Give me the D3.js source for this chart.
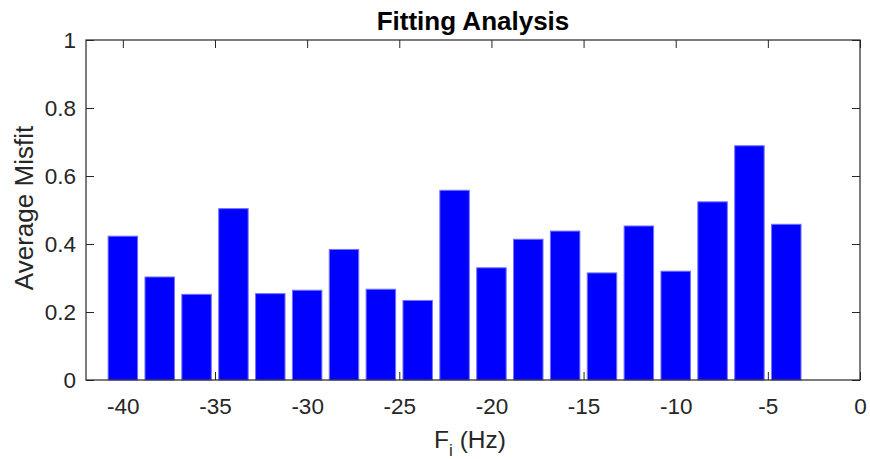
<!DOCTYPE html>
<html>
<head>
<meta charset="utf-8">
<script src="https://cdn.jsdelivr.net/npm/d3@7"></script>
<style>
  html, body { margin: 0; padding: 0; background: #fff; }
  svg { display: block; font-family: "Liberation Sans", Arial, Helvetica, sans-serif; }
</style>
</head>
<body>
<svg id="chart" width="870" height="459"></svg>
<script>
// Frequency bins (Hz) and the average misfit of the fit in each bin
const frequencies = [-40, -38, -36, -34, -32, -30, -28, -26, -24, -22, -20, -18, -16, -14, -12, -10, -8, -6, -4];
const misfits = [0.423, 0.303, 0.252, 0.504, 0.254, 0.264, 0.384, 0.267, 0.234, 0.558, 0.330, 0.414, 0.438, 0.315, 0.453, 0.320, 0.524, 0.689, 0.458];
const xTicks = [-40, -35, -30, -25, -20, -15, -10, -5, 0];
const yTicks = [0, 0.2, 0.4, 0.6, 0.8, 1];

const svg = d3.select("#chart");
const plot = { left: 86, right: 860, top: 40, bottom: 380 };
const axisColor = "#262626";
const tickLen = 8;

const x = d3.scaleLinear().domain([-42, 0]).range([plot.left, plot.right]);
const y = d3.scaleLinear().domain([0, 1]).range([plot.bottom, plot.top]);

// plain ASCII hyphen for negatives
const fmt = d => String(d);

// inward ticks on all four sides (box on)
const g = svg.append("g");
function styleAxis(sel) {
  sel.selectAll("path.domain").remove();
  sel.selectAll("line").attr("stroke", axisColor).attr("stroke-width", 1);
  sel.selectAll("text").attr("fill", axisColor).style("font-size", "22.5px");
}
g.append("g").attr("transform", `translate(0,${plot.bottom})`)
  .call(d3.axisBottom(x).tickValues(xTicks).tickSize(-tickLen).tickPadding(18).tickFormat(fmt))
  .call(styleAxis);
g.append("g").attr("transform", `translate(0,${plot.top})`)
  .call(d3.axisTop(x).tickValues(xTicks).tickSize(-tickLen).tickFormat(""))
  .call(styleAxis);
g.append("g").attr("transform", `translate(${plot.left},0)`)
  .call(d3.axisLeft(y).tickValues(yTicks).tickSize(-tickLen).tickPadding(10).tickFormat(fmt))
  .call(styleAxis);
g.append("g").attr("transform", `translate(${plot.right},0)`)
  .call(d3.axisRight(y).tickValues(yTicks).tickSize(-tickLen).tickFormat(""))
  .call(styleAxis);

// bars, width 0.8 of the bin spacing
const spacing = 2;
const barW = x(-42 + spacing * 0.8) - x(-42);
svg.append("g").selectAll("rect")
  .data(frequencies.map((f, i) => ({ f, v: misfits[i] })))
  .join("rect")
  .attr("x", d => x(d.f) - barW / 2)
  .attr("y", d => y(d.v))
  .attr("width", barW)
  .attr("height", d => y(0) - y(d.v))
  .attr("fill", "#0000ff")
  .attr("stroke", "#7373ff")
  .attr("stroke-width", 1);

// axes box
svg.append("rect")
  .attr("x", plot.left).attr("y", plot.top)
  .attr("width", plot.right - plot.left).attr("height", plot.bottom - plot.top)
  .attr("fill", "none").attr("stroke", axisColor).attr("stroke-width", 1.2);

// title
svg.append("text")
  .attr("x", (plot.left + plot.right) / 2).attr("y", 30)
  .attr("text-anchor", "middle")
  .style("font-size", "26px").style("font-weight", "bold")
  .attr("fill", "#000")
  .text("Fitting Analysis");

// x label with subscript
const xl = svg.append("text")
  .attr("x", 470).attr("y", 448)
  .attr("text-anchor", "middle")
  .style("font-size", "24.5px")
  .attr("fill", axisColor);
xl.append("tspan").text("F");
xl.append("tspan").attr("dy", 8).style("font-size", "17px").text("i");
xl.append("tspan").attr("dy", -8).text(" (Hz)");

// y label
svg.append("text")
  .attr("transform", `translate(33,208) rotate(-90)`)
  .attr("text-anchor", "middle")
  .style("font-size", "26px")
  .attr("fill", axisColor)
  .text("Average Misfit");
</script>
</body>
</html>
